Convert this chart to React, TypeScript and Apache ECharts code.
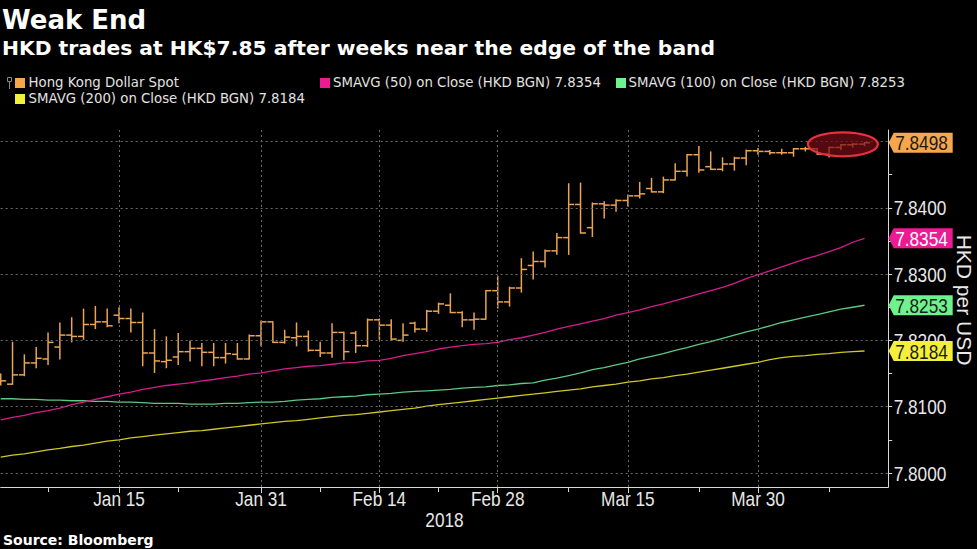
import React, { useEffect, useRef } from 'react';
import * as echarts from 'echarts';

const W = 977;
const H = 549;

// ---- categories: business days from Jan 1 2018 (two empty trailing days for right padding)
const MONTHS = ['Jan', 'Feb', 'Mar', 'Apr', 'May'];
function businessDays(count: number): string[] {
  const out: string[] = [];
  let t = Date.UTC(2018, 0, 1);
  while (out.length < count) {
    const d = new Date(t);
    const wd = d.getUTCDay();
    if (wd !== 0 && wd !== 6) out.push(`${MONTHS[d.getUTCMonth()]} ${d.getUTCDate()}`);
    t += 86400000;
  }
  return out;
}
const categories = businessDays(76);
const majorTickLabels = ['Jan 15', 'Jan 31', 'Feb 14', 'Feb 28', 'Mar 15', 'Mar 30'];
const minorTickDates = ['Jan 5', 'Jan 22', 'Feb 7', 'Feb 21', 'Mar 8', 'Mar 23', 'Apr 9'];
const yearLabel = '2018';
const yTickValues = [7.8, 7.805, 7.81, 7.815, 7.82, 7.825, 7.83, 7.835, 7.84, 7.845, 7.85];
const yGridValues = [7.8, 7.81, 7.82, 7.83, 7.84, 7.85];
const yLabelValues = [7.8, 7.81, 7.82, 7.83, 7.84];

// ---- Hong Kong Dollar Spot OHLC
const open = [7.8141, 7.8134, 7.8148, 7.8166, 7.8172, 7.8190, 7.8208, 7.8206, 7.8224, 7.8228,
  7.8238, 7.8233, 7.8227, 7.8181, 7.8168, 7.8175, 7.8183, 7.8188, 7.8182, 7.8174,
  7.8179, 7.8172, 7.8207, 7.8228, 7.8197, 7.8204, 7.8206, 7.8185, 7.8181, 7.8212,
  7.8211, 7.8192, 7.8231, 7.8223, 7.8200, 7.8226, 7.8217, 7.8244, 7.8253, 7.8242,
  7.8231, 7.8232, 7.8275, 7.8258, 7.8279, 7.8313, 7.8319, 7.8335, 7.8355, 7.8405,
  7.8370, 7.8406, 7.8404, 7.8411, 7.8418, 7.8429, 7.8424, 7.8442, 7.8455, 7.8480,
  7.8462, 7.8458, 7.8466, 7.8475, 7.8486, 7.8485, 7.8483, 7.8483, 7.8489, 7.8489,
  7.8481, 7.8491, 7.8495, 7.8496];
const high = [7.8150, 7.8198, 7.8179, 7.8190, 7.8212, 7.8227, 7.8235, 7.8248, 7.8252, 7.8248,
  7.8250, 7.8248, 7.8242, 7.8217, 7.8206, 7.8211, 7.8200, 7.8196, 7.8196, 7.8196,
  7.8196, 7.8209, 7.8230, 7.8229, 7.8216, 7.8227, 7.8215, 7.8198, 7.8226, 7.8213,
  7.8214, 7.8233, 7.8233, 7.8232, 7.8226, 7.8228, 7.8246, 7.8257, 7.8271, 7.8244,
  7.8242, 7.8276, 7.8297, 7.8281, 7.8324, 7.8334, 7.8337, 7.8362, 7.8437, 7.8438,
  7.8408, 7.8410, 7.8413, 7.8420, 7.8439, 7.8445, 7.8447, 7.8467, 7.8481, 7.8493,
  7.8485, 7.8476, 7.8477, 7.8488, 7.8490, 7.8487, 7.8489, 7.8490, 7.8492, 7.8490,
  7.8492, 7.8496, 7.8498, 7.8499];
const low = [7.8132, 7.8133, 7.8146, 7.8158, 7.8163, 7.8171, 7.8197, 7.8201, 7.8217, 7.8220,
  7.8226, 7.8212, 7.8161, 7.8151, 7.8158, 7.8163, 7.8168, 7.8161, 7.8161, 7.8165,
  7.8171, 7.8171, 7.8191, 7.8196, 7.8195, 7.8191, 7.8183, 7.8175, 7.8174, 7.8170,
  7.8181, 7.8190, 7.8201, 7.8199, 7.8198, 7.8212, 7.8213, 7.8240, 7.8241, 7.8220,
  7.8216, 7.8231, 7.8248, 7.8251, 7.8272, 7.8292, 7.8310, 7.8329, 7.8329, 7.8361,
  7.8356, 7.8384, 7.8394, 7.8402, 7.8414, 7.8423, 7.8422, 7.8441, 7.8447, 7.8453,
  7.8457, 7.8455, 7.8456, 7.8464, 7.8480, 7.8480, 7.8480, 7.8477, 7.8485, 7.8480,
  7.8476, 7.8487, 7.8491, 7.8493];
const close = [7.8139, 7.8148, 7.8166, 7.8173, 7.8197, 7.8208, 7.8206, 7.8224, 7.8228, 7.8222,
  7.8233, 7.8227, 7.8181, 7.8169, 7.8170, 7.8183, 7.8188, 7.8182, 7.8174, 7.8180,
  7.8172, 7.8207, 7.8228, 7.8197, 7.8205, 7.8206, 7.8185, 7.8181, 7.8212, 7.8183,
  7.8192, 7.8231, 7.8223, 7.8202, 7.8208, 7.8217, 7.8244, 7.8255, 7.8242, 7.8231,
  7.8232, 7.8275, 7.8258, 7.8279, 7.8307, 7.8319, 7.8335, 7.8355, 7.8405, 7.8362,
  7.8406, 7.8404, 7.8411, 7.8418, 7.8421, 7.8424, 7.8442, 7.8455, 7.8480, 7.8457,
  7.8458, 7.8466, 7.8475, 7.8486, 7.8485, 7.8483, 7.8483, 7.8489, 7.8489, 7.8481,
  7.8491, 7.8495, 7.8496, 7.8498];

// ---- moving averages
const sma50 = [7.8080, 7.8084, 7.8087, 7.8091, 7.8094, 7.8098, 7.8103, 7.8107, 7.8111, 7.8115,
  7.8119, 7.8122, 7.8126, 7.8129, 7.8132, 7.8134, 7.8136, 7.8139, 7.8141, 7.8144,
  7.8146, 7.8149, 7.8151, 7.8154, 7.8157, 7.8159, 7.8161, 7.8162, 7.8164, 7.8166,
  7.8167, 7.8169, 7.8170, 7.8173, 7.8177, 7.8180, 7.8183, 7.8187, 7.8190, 7.8192,
  7.8194, 7.8195, 7.8197, 7.8201, 7.8204, 7.8208, 7.8212, 7.8217, 7.8221, 7.8225,
  7.8229, 7.8233, 7.8238, 7.8242, 7.8246, 7.8251, 7.8255, 7.8260, 7.8265, 7.8270,
  7.8275, 7.8280, 7.8286, 7.8293, 7.8299, 7.8305, 7.8311, 7.8317, 7.8323, 7.8328,
  7.8334, 7.8340, 7.8348, 7.8354];
const sma100 = [7.8112, 7.8112, 7.8111, 7.8111, 7.8110, 7.8110, 7.8109, 7.8109, 7.8108, 7.8108,
  7.8107, 7.8107, 7.8106, 7.8105, 7.8105, 7.8105, 7.8104, 7.8104, 7.8104, 7.8105,
  7.8105, 7.8106, 7.8107, 7.8107, 7.8108, 7.8110, 7.8111, 7.8112, 7.8114, 7.8115,
  7.8116, 7.8118, 7.8119, 7.8120, 7.8122, 7.8123, 7.8124, 7.8125, 7.8126, 7.8128,
  7.8129, 7.8130, 7.8132, 7.8133, 7.8135, 7.8136, 7.8140, 7.8143, 7.8147, 7.8151,
  7.8156, 7.8159, 7.8163, 7.8167, 7.8172, 7.8176, 7.8180, 7.8185, 7.8189, 7.8194,
  7.8198, 7.8203, 7.8208, 7.8213, 7.8217, 7.8222, 7.8227, 7.8231, 7.8235, 7.8239,
  7.8243, 7.8247, 7.8250, 7.8253];
const sma200 = [7.8024, 7.8027, 7.8029, 7.8032, 7.8035, 7.8037, 7.8040, 7.8042, 7.8045, 7.8048,
  7.8050, 7.8053, 7.8055, 7.8057, 7.8059, 7.8061, 7.8063, 7.8064, 7.8066, 7.8068,
  7.8070, 7.8072, 7.8074, 7.8076, 7.8078, 7.8079, 7.8081, 7.8083, 7.8085, 7.8087,
  7.8088, 7.8090, 7.8092, 7.8094, 7.8096, 7.8098, 7.8101, 7.8103, 7.8105, 7.8107,
  7.8109, 7.8111, 7.8113, 7.8115, 7.8117, 7.8119, 7.8121, 7.8123, 7.8125, 7.8127,
  7.8130, 7.8132, 7.8134, 7.8137, 7.8139, 7.8142, 7.8144, 7.8147, 7.8149, 7.8152,
  7.8155, 7.8158, 7.8161, 7.8164, 7.8167, 7.8171, 7.8174, 7.8176, 7.8177, 7.8179,
  7.8180, 7.8182, 7.8183, 7.8184];

const COL_SPOT = '#EBA450';
const COL_SPOT_TAG = '#F7A64C';
const COL_50 = '#D41C8C';
const COL_50_TAG = '#EC1A93';
const COL_100 = '#5DC783';
const COL_100_TAG = '#6DF28D';
const COL_200 = '#CFC724';
const COL_200_TAG = '#F4F03A';

const AXF = "'Liberation Sans', Arial, sans-serif";
const SANS = "'DejaVu Sans', Verdana, sans-serif";
const NARROW_SCALE = 0.82;

function buildOption(): any {
  const ohlcData = open.map((o, i) => [i, o, close[i], low[i], high[i]]);
  const gridLines = [
    ...yGridValues.map((v) => ({ yAxis: v })),
    ...majorTickLabels.map((c) => ({ xAxis: c })),
  ];
  return {
    animation: false,
    backgroundColor: '#000000',
    grid: { left: 0.7, right: W - 888.2, top: 130, bottom: H - 487, containLabel: false },
    xAxis: [
      {
        type: 'category',
        data: categories,
        boundaryGap: false,
        axisLine: { show: true, lineStyle: { color: '#d8d8d8', width: 1 } },
        axisTick: {
          show: true,
          length: 6,
          interval: (_i: number, v: string) => majorTickLabels.includes(v),
          lineStyle: { color: '#d8d8d8' },
        },
        axisLabel: { show: false },
        splitLine: { show: false },
      },
      {
        type: 'category',
        data: categories,
        boundaryGap: false,
        position: 'bottom',
        axisLine: { show: false },
        axisTick: {
          show: true,
          length: 5,
          interval: (_i: number, v: string) => minorTickDates.includes(v),
          lineStyle: { color: '#d8d8d8' },
        },
        axisLabel: { show: false },
        splitLine: { show: false },
      },
    ],
    yAxis: {
      type: 'value',
      position: 'right',
      min: 7.79789,
      max: 7.85173,
      axisLine: { show: true, lineStyle: { color: '#d8d8d8', width: 1 } },
      axisTick: { show: true, length: 4, customValues: yTickValues, lineStyle: { color: '#d8d8d8' } },
      axisLabel: { show: false },
      splitLine: { show: false },
    },
    series: [
      {
        type: 'line',
        name: 'grid',
        data: categories.map(() => null),
        silent: true,
        z: 1,
        markLine: {
          silent: true,
          symbol: ['none', 'none'],
          label: { show: false },
          lineStyle: { type: [2, 3], color: '#6a6a6a', width: 1 },
          data: gridLines,
          animation: false,
        },
      },
      {
        type: 'line', name: 'SMAVG (200)', data: sma200, showSymbol: false, symbol: 'none',
        lineStyle: { color: COL_200, width: 1.3 }, z: 3,
      },
      {
        type: 'line', name: 'SMAVG (100)', data: sma100, showSymbol: false, symbol: 'none',
        lineStyle: { color: COL_100, width: 1.3 }, z: 3,
      },
      {
        type: 'line', name: 'SMAVG (50)', data: sma50, showSymbol: false, symbol: 'none',
        lineStyle: { color: COL_50, width: 1.3 }, z: 3,
      },
      {
        type: 'custom',
        name: 'Hong Kong Dollar Spot',
        data: ohlcData,
        encode: { x: 0, y: [1, 2, 3, 4] },
        clip: true,
        z: 4,
        renderItem: (_params: any, api: any) => {
          const x = api.value(0);
          const pO = api.coord([x, api.value(1)]);
          const pC = api.coord([x, api.value(2)]);
          const pL = api.coord([x, api.value(3)]);
          const pH = api.coord([x, api.value(4)]);
          const tw = 5.5;
          const st = { stroke: COL_SPOT, lineWidth: 1.5 };
          return {
            type: 'group',
            children: [
              { type: 'line', shape: { x1: pH[0], y1: pH[1], x2: pL[0], y2: pL[1] }, style: st },
              { type: 'line', shape: { x1: pO[0] - tw, y1: pO[1], x2: pO[0], y2: pO[1] }, style: st },
              { type: 'line', shape: { x1: pC[0], y1: pC[1], x2: pC[0] + tw, y2: pC[1] }, style: st },
            ],
          };
        },
      },
    ],
  };
}

function txt(text: string, x: number, y: number, font: string, fill: string, align = 'left', extra: any = {}) {
  return {
    type: 'text',
    x,
    y,
    z: 20,
    silent: true,
    style: {
      text,
      font,
      fill,
      align,
      textAlign: align,
      verticalAlign: 'middle',
      textVerticalAlign: 'middle',
    },
    ...extra,
  };
}

export default function App() {
  const ref = useRef<HTMLDivElement>(null);
  useEffect(() => {
    const el = ref.current as HTMLDivElement;
    const chart = echarts.init(el, null, { renderer: 'svg', width: W, height: H });
    chart.setOption(buildOption());

    const xPix = (i: number) => chart.convertToPixel({ xAxisIndex: 0 }, i) as number;
    const yPix = (v: number) => chart.convertToPixel({ yAxisIndex: 0 }, v) as number;
    const right = xPix(categories.length - 1);
    const narrow = { scaleX: NARROW_SCALE };

    const axisTexts: any[] = [];
    majorTickLabels.forEach((lab) => {
      axisTexts.push(txt(lab, xPix(categories.indexOf(lab)), 499, `21px ${AXF}`, '#e8e8e8', 'center', narrow));
    });
    yLabelValues.forEach((v) => {
      axisTexts.push(txt(v.toFixed(4), right + 5.5, yPix(v) + 0.5, `21px ${AXF}`, '#e8e8e8', 'left', { ...narrow, z: 15 }));
    });

    const tags = [
      { v: close[close.length - 1], bg: COL_SPOT_TAG, fg: '#1a1a1a' },
      { v: sma50[sma50.length - 1], bg: COL_50_TAG, fg: '#ffffff' },
      { v: sma100[sma100.length - 1], bg: COL_100_TAG, fg: '#1a1a1a' },
      { v: sma200[sma200.length - 1], bg: COL_200_TAG, fg: '#1a1a1a' },
    ];
    const tagEls: any[] = [];
    tags.forEach((t) => {
      const y = yPix(t.v);
      const x0 = right + 0.5;
      tagEls.push({
        type: 'polygon',
        z: 18,
        silent: true,
        shape: {
          points: [
            [x0, y], [x0 + 5, y - 10], [x0 + 64, y - 10], [x0 + 64, y + 10], [x0 + 5, y + 10],
          ],
        },
        style: { fill: t.bg },
      });
      tagEls.push(txt(t.v.toFixed(4), x0 + 6.5, y + 0.5, `21px ${AXF}`, t.fg, 'left', { ...narrow, z: 21 }));
    });

    const n = close.length;
    const cx = (xPix(n - 5) + xPix(n - 1)) / 2 + 2;
    const cy = yPix(close[n - 1]) + 1.5;

    const legendFont = `13.3px ${SANS}`;
    const legendColor = '#e2e2e2';
    const graphic: any[] = [
      {
        type: 'ellipse',
        z: 10,
        silent: true,
        shape: { cx, cy, rx: 35, ry: 12 },
        style: { fill: 'rgba(120, 12, 22, 0.7)', stroke: '#E8303E', lineWidth: 2.2 },
      },
      txt('Weak End', 2, 20, `bold 26px ${SANS}`, '#ffffff'),
      txt('HKD trades at HK$7.85 after weeks near the edge of the band', 2, 48, `bold 20.3px ${SANS}`, '#ffffff'),
      // legend row 1
      { type: 'rect', z: 20, silent: true, shape: { x: 7.5, y: 77.5, width: 4, height: 4 }, style: { fill: 'none', stroke: '#8a8a8a', lineWidth: 1 } },
      { type: 'line', z: 20, silent: true, shape: { x1: 9.5, y1: 81.5, x2: 9.5, y2: 89 }, style: { stroke: '#8a8a8a', lineWidth: 1 } },
      { type: 'rect', z: 20, silent: true, shape: { x: 15, y: 78, width: 10, height: 10 }, style: { fill: COL_SPOT_TAG } },
      txt('Hong Kong Dollar Spot', 28.5, 82.5, legendFont, legendColor),
      { type: 'rect', z: 20, silent: true, shape: { x: 320, y: 78, width: 10, height: 10 }, style: { fill: COL_50_TAG } },
      txt(`SMAVG (50) on Close (HKD BGN) ${sma50[n - 1].toFixed(4)}`, 333, 82.5, legendFont, legendColor),
      { type: 'rect', z: 20, silent: true, shape: { x: 616, y: 78, width: 10, height: 10 }, style: { fill: COL_100_TAG } },
      txt(`SMAVG (100) on Close (HKD BGN) ${sma100[n - 1].toFixed(4)}`, 628.5, 82.5, legendFont, legendColor),
      // legend row 2
      { type: 'rect', z: 20, silent: true, shape: { x: 15, y: 94, width: 10, height: 10 }, style: { fill: COL_200_TAG } },
      txt(`SMAVG (200) on Close (HKD BGN) ${sma200[n - 1].toFixed(4)}`, 28.5, 98.5, legendFont, legendColor),
      // axis extras
      ...axisTexts,
      txt(yearLabel, (xPix(0) + right) / 2, 520, `21px ${AXF}`, '#e8e8e8', 'center', narrow),
      txt('HKD per USD', 0, 0, `21px ${AXF}`, '#e8e8e8', 'center', {
        x: 964, y: 300, rotation: -Math.PI / 2,
      }),
      txt('Source: Bloomberg', 3, 540, `bold 14px ${SANS}`, '#ffffff'),
      ...tagEls,
    ];
    chart.setOption({ graphic });
    return () => chart.dispose();
  }, []);
  return (
    <div
      ref={ref}
      style={{ position: 'fixed', left: 0, top: 0, width: W, height: H, background: '#000' }}
    />
  );
}
